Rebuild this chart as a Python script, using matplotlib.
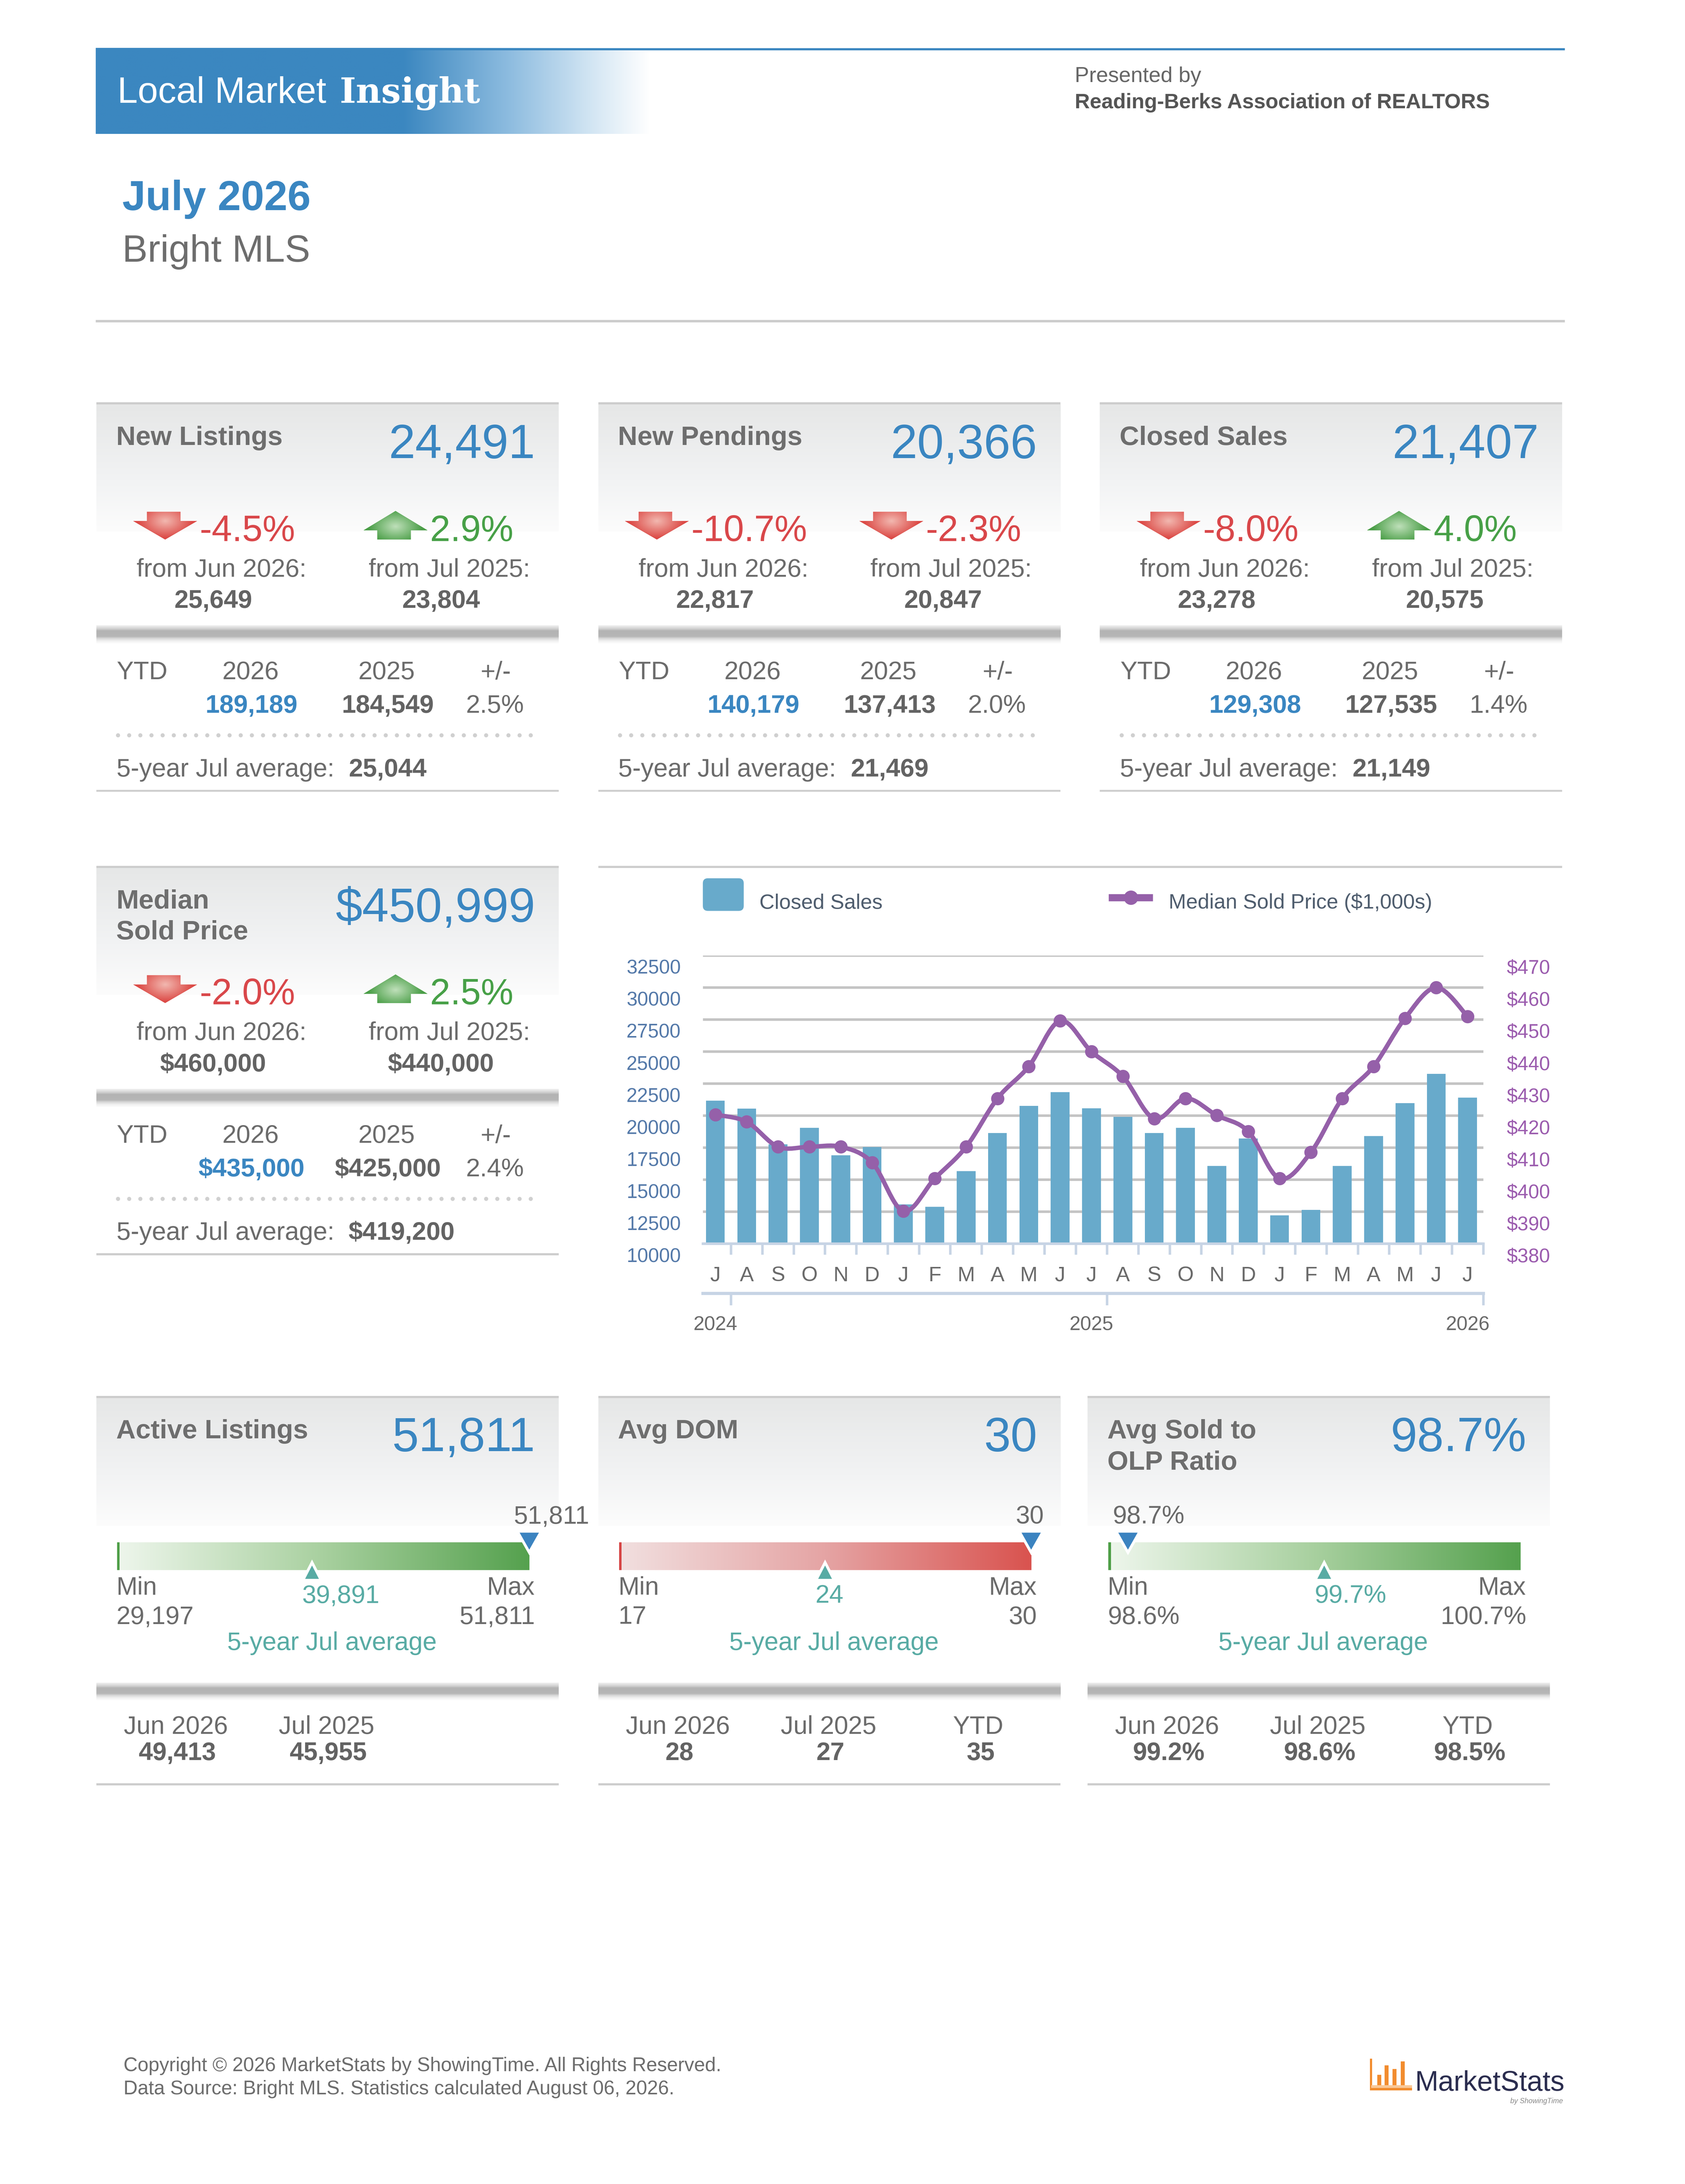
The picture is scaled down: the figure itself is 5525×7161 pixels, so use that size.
import numpy as np
import matplotlib
matplotlib.use("Agg")
import matplotlib.pyplot as plt
from matplotlib.patches import Polygon, Rectangle, FancyBboxPatch, PathPatch
from matplotlib.path import Path
from matplotlib.colors import LinearSegmentedColormap, to_rgb
from matplotlib.transforms import ScaledTranslation

SANS = ['Liberation Sans', 'DejaVu Sans']
plt.rcParams['font.family'] = SANS

# ---- chart data, Jul 2024 .. Jul 2026
months = ['J', 'A', 'S', 'O', 'N', 'D', 'J', 'F', 'M', 'A', 'M', 'J',
          'J', 'A', 'S', 'O', 'N', 'D', 'J', 'F', 'M', 'A', 'M', 'J', 'J']
year_labels = ['2024', '2025', '2026']
closed_sales = [21180, 20560, 17780, 19060, 16910, 17560, 13070, 12880, 15670, 18640, 20760, 21830,
                20575, 19910, 18640, 19060, 16070, 18210, 12230, 12650, 16070, 18410, 20980, 23278, 21407]
median_price = [420.3, 418.1, 410.3, 410.3, 410.3, 405.4, 390.2, 400.4, 410.3, 425.4, 435.4, 449.6,
                440.0, 432.3, 419.1, 425.4, 420.1, 415.1, 400.4, 408.6, 425.4, 435.4, 450.4, 460.0, 451.0]
left_ticks = list(range(10000, 32501, 2500))
right_ticks = list(range(380, 471, 10))

# ---- stat panels
stat_titles = ['New Listings', 'New Pendings', 'Closed Sales', 'Median\nSold Price']
stat_now = ['24,491', '20,366', '21,407', '$450,999']
mom_pct = [-4.5, -10.7, -8.0, -2.0]
yoy_pct = [2.9, -2.3, 4.0, 2.5]
prev_month = ['25,649', '22,817', '23,278', '$460,000']
prev_year = ['23,804', '20,847', '20,575', '$440,000']
ytd_2026 = ['189,189', '140,179', '129,308', '$435,000']
ytd_2025 = ['184,549', '137,413', '127,535', '$425,000']
ytd_chg = ['2.5%', '2.0%', '1.4%', '2.4%']
avg_5yr = ['25,044', '21,469', '21,149', '$419,200']

# ---- gauge panels
gauge_titles = ['Active Listings', 'Avg DOM', 'Avg Sold to\nOLP Ratio']
gauge_now = [51811, 30, 98.7]
gauge_now_lbl = ['51,811', '30', '98.7%']
gauge_min = [29197, 17, 98.6]
gauge_min_lbl = ['29,197', '17', '98.6%']
gauge_avg = [39891, 23.5, 99.7]
gauge_avg_lbl = ['39,891', '24', '99.7%']
gauge_max = [51811, 30, 100.7]
gauge_max_lbl = ['51,811', '30', '100.7%']
gauge_sub_lbl = [['Jun 2026', 'Jul 2025'], ['Jun 2026', 'Jul 2025', 'YTD'], ['Jun 2026', 'Jul 2025', 'YTD']]
gauge_sub_val = [['49,413', '45,955'], ['28', '27', '35'], ['99.2%', '98.6%', '98.5%']]

BLUE = '#3a86c1'
GRAY = '#6b6b6b'
DARK = '#636363'
TITLE_C = '#6e6e6e'
RED = '#d9474a'
GREEN = '#47a047'
TEAL = '#58aba4'
LINE = '#cdcdcd'
BAR_C = '#68aacb'
PURPLE = '#9560a9'
LEFT_C = '#5479a9'
RIGHT_C = '#9b5cae'
AX_C = '#c7d4e5'
MONTH_C = '#6a6a6a'
LEG_C = '#4f5d6e'
MARK_BLUE = '#3b83c0'
BIG = 17.4
PANEL_STOPS = [(0, '#e6e7e7'), (0.6, '#f2f3f4'), (1, '#fcfcfc')]
BAND_STOPS = [(0, '#f2f2f2'), (0.18, '#d2d2d2'), (0.3, '#b3b3b3'), (0.6, '#b6b6b6'),
              (0.72, '#dadada'), (0.85, '#f1f1f1'), (1, '#ffffff')]
GREEN_BAR = [(0, '#eef6ec'), (0.5, '#a8d09f'), (1, '#55a14e')]
RED_BAR = [(0, '#f1dfdf'), (0.5, '#e5a4a4'), (1, '#d9534f')]
gauge_stops = [GREEN_BAR, RED_BAR, GREEN_BAR]
gauge_edge = ['#4e9e47', '#d64545', '#4e9e47']

# page laid out in units of the 5891 x 7635 reference; rendered a bit smaller
W, H = 5891, 7635
DPI = 650
fig = plt.figure(figsize=(W / 693, H / 693), dpi=DPI)
pg = fig.add_axes([0, 0, 1, 1])
pg.set_xlim(0, W)
pg.set_ylim(H, 0)
pg.axis('off')
rend = fig.canvas.get_renderer()
PX = W / (fig.get_figwidth() * DPI)   # page units per output pixel


def cmap_of(stops):
    return LinearSegmentedColormap.from_list('g', stops)


def vgrad(x0, x1, y0, y1, stops, z=0):
    c = cmap_of(stops)(np.linspace(0, 1, 256))[:, None, :]
    pg.imshow(c, extent=(x0, x1, y1, y0), aspect='auto', interpolation='bilinear', zorder=z)


def hgrad(x0, x1, y0, y1, stops, z=1):
    c = cmap_of(stops)(np.linspace(0, 1, 256))[None, :, :]
    pg.imshow(c, extent=(x0, x1, y1, y0), aspect='auto', interpolation='bilinear', zorder=z)


def hline(x0, x1, y, th, color, z=2):
    pg.add_patch(Rectangle((x0, y - th / 2), x1 - x0, th, facecolor=color, edgecolor='none', zorder=z))


def tx(x, y, s, size, color=GRAY, weight='normal', ha='left', family=None, style='normal', z=5):
    return pg.text(x, y, s, fontsize=size, color=color, fontweight=weight, ha=ha, va='baseline',
                   family=family or SANS, fontstyle=style, zorder=z)


def width_of(t):
    return t.get_window_extent(rend).width * PX


def fit(t, width):
    t.set_fontsize(t.get_fontsize() * width / width_of(t))


def arrow(x0, top, up, base, light):
    w = 223.3
    if up:
        head = 67.5
        bot = top + 99.8
        pts = [(x0 + w / 2, top), (x0 + w, top + head), (x0 + 165.2, top + head), (x0 + 165.2, bot),
               (x0 + 48, bot), (x0 + 48, top + head), (x0, top + head)]
        cy = top + head * 0.8
    else:
        shaft = 32.4
        bot = top + 97.1
        pts = [(x0 + 48, top), (x0 + 165.2, top), (x0 + 165.2, top + shaft), (x0 + w, top + shaft),
               (x0 + w / 2, bot), (x0, top + shaft), (x0 + 48, top + shaft)]
        cy = top + shaft
    poly = Polygon(pts, closed=True, facecolor=base, edgecolor='none', zorder=3)
    pg.add_patch(poly)
    gx, gy = np.meshgrid(np.linspace(x0, x0 + w, 80), np.linspace(top, bot, 80))
    d = np.sqrt(((gx - (x0 + w / 2)) / 95) ** 2 + ((gy - cy) / 60) ** 2)
    t = np.clip(d, 0, 1)[..., None]
    img = np.array(to_rgb(light)) * (1 - t) + np.array(to_rgb(base)) * t
    im = pg.imshow(img, extent=(x0, x0 + w, bot, top), aspect='auto', interpolation='bilinear', zorder=4)
    im.set_clip_path(poly)


def pct_group(cx, T, val):
    up = val > 0
    color = GREEN if up else RED
    t = tx(0, T + 480.9, f'{val:.1f}%', 13.3, color)
    w = width_of(t)
    x0 = cx - (232.3 + w) / 2
    if up:
        arrow(x0, T + 376.4, True, '#4a9e47', '#bfe0ba')
    else:
        arrow(x0, T + 379.1, False, '#dc4a46', '#f2b8b0')
    t.set_x(x0 + 232.3)


def band(x0, x1, y0, y1):
    vgrad(x0, x1, y0, y1, BAND_STOPS, z=1)


def dots(x0, x1, y):
    pg.plot([x0, x1], [y, y], color='#d0d0d0', lw=1.5, linestyle=(0, (0.001, 2.7)),
            dash_capstyle='round', zorder=2)


def stat_panel(L, T, k):
    hline(L, L + 1616, T, 7.4, LINE)
    vgrad(L, L + 1616, T + 3.7, T + 448, PANEL_STOPS)
    for i, line in enumerate(stat_titles[k].split('\n')):
        tx(L + 69, T + 145.2 + i * 108, line, 9.8, TITLE_C, 'bold')
    tx(L + 1534, T + 191, stat_now[k], BIG, BLUE, ha='right')
    pct_group(L + 412, T, mom_pct[k])
    pct_group(L + 1196, T, yoy_pct[k])
    tx(L + 437.5, T + 605.7, 'from Jun 2026:', 9.25, ha='center')
    tx(L + 1233.8, T + 605.7, 'from Jul 2025:', 9.25, ha='center')
    tx(L + 408, T + 714.8, prev_month[k], 9.25, DARK, 'bold', ha='center')
    tx(L + 1205, T + 714.8, prev_year[k], 9.25, DARK, 'bold', ha='center')
    band(L, L + 1616, T + 777, T + 841)
    tx(L + 71, T + 964.5, 'YTD', 9.25)
    tx(L + 539, T + 964.5, '2026', 9.25, ha='center')
    tx(L + 1014.5, T + 964.5, '2025', 9.25, ha='center')
    tx(L + 1396.6, T + 964.5, '+/-', 9.25, ha='center')
    tx(L + 543, T + 1081.9, ytd_2026[k], 9.25, BLUE, 'bold', ha='center')
    tx(L + 1019, T + 1081.9, ytd_2025[k], 9.25, DARK, 'bold', ha='center')
    tx(L + 1394, T + 1081.9, ytd_chg[k], 9.25, ha='center')
    dots(L + 76, L + 1527, T + 1160.5)
    tx(L + 70, T + 1303.8, '5-year Jul average:', 9.25)
    tx(L + 882, T + 1303.8, avg_5yr[k], 9.25, DARK, 'bold')
    hline(L, L + 1616, T + 1354.7, 7.4, LINE)


def gauge_panel(L, T, k):
    hline(L, L + 1616, T, 7.4, LINE)
    vgrad(L, L + 1616, T + 3.7, T + 451, PANEL_STOPS)
    for i, line in enumerate(gauge_titles[k].split('\n')):
        tx(L + 69, T + 144.2 + i * 110, line, 9.8, TITLE_C, 'bold')
    tx(L + 1534, T + 189, gauge_now_lbl[k], BIG, BLUE, ha='right')
    bx0, bx1 = L + 72.5, L + 1513.4
    by0, by1 = T + 508.6, T + 605.6
    hgrad(bx0, bx1, by0, by1, gauge_stops[k])
    pg.add_patch(Rectangle((bx0, by0), 9, by1 - by0, facecolor=gauge_edge[k], edgecolor='none', zorder=2))
    span = gauge_max[k] - gauge_min[k]
    xm = bx0 + (gauge_now[k] - gauge_min[k]) / span * (bx1 - bx0)
    xa = bx0 + (gauge_avg[k] - gauge_min[k]) / span * (bx1 - bx0)
    pg.add_patch(Polygon([(xm - 42, T + 469.7), (xm + 42, T + 469.7), (xm, T + 543.7)], closed=True,
                         facecolor=MARK_BLUE, edgecolor='white', lw=1.0, zorder=6))
    tx(xm - 54, T + 442, gauge_now_lbl[k], 9.2)
    pg.add_patch(Polygon([(xa, T + 578.8), (xa + 32, T + 640.8), (xa - 32, T + 640.8)], closed=True,
                         facecolor=TEAL, edgecolor='white', lw=1.0, zorder=6))
    tx(xa - 34, T + 719.4, gauge_avg_lbl[k], 9.2, TEAL)
    tx(L + 70, T + 691.6, 'Min', 9.2)
    tx(L + 70, T + 793.4, gauge_min_lbl[k], 9.2)
    tx(L + 1532, T + 691.6, 'Max', 9.2, ha='right')
    tx(L + 1534, T + 793.4, gauge_max_lbl[k], 9.2, ha='right')
    tx(L + 824, T + 884, '5-year Jul average', 9.2, TEAL, ha='center')
    band(L, L + 1616, T + 1000, T + 1062)
    centers = [278, 805, 1328]
    vcenters = [283, 811, 1336]
    for j, (lab, val) in enumerate(zip(gauge_sub_lbl[k], gauge_sub_val[k])):
        tx(L + centers[j], T + 1177.1, lab, 9.2, ha='center')
        tx(L + vcenters[j], T + 1269.6, val, 9.2, DARK, 'bold', ha='center')
    hline(L, L + 1616, T + 1354.7, 7.4, LINE)


# ---- header
hgrad(334.4, 2273, 168.4, 468.4, [(0, '#3b87c0'), (0.554, '#3b87c0'), (0.75, '#8fbde0'),
                                   (0.9, '#d5e7f4'), (1, '#ffffff')], z=1)
hline(334.4, 5470, 172.2, 7.6, '#3b87c0')
tx(410, 359.7, 'Local Market', 13.25, 'white')
t = tx(1187, 359.7, 'Insight', 13, 'white', 'bold', family=['DejaVu Serif'])
fit(t, 492)
tx(3757, 287, 'Presented by', 7.8, '#666666')
tx(3757, 378.8, 'Reading-Berks Association of REALTORS', 7.6, '#555555', 'bold')
tx(428, 734.7, 'July 2026', 15.2, BLUE, 'bold')
tx(428, 914.5, 'Bright MLS', 13.8, '#6d6d6d')
hline(334.4, 5470, 1123, 8.3, '#cccccc')

# ---- panels
for k, L in enumerate([336.9, 2091.4, 3845]):
    stat_panel(L, 1410.1, k)
stat_panel(336.9, 3030.4, 3)
for k, L in enumerate([336.9, 2091.4, 3802]):
    gauge_panel(L, 4883.6, k)

# ---- combo chart
hline(2091.4, 5461, 3030.4, 7.4, LINE)
pg.add_patch(FancyBboxPatch((2475, 3088.5), 107, 78, boxstyle='round,pad=18',
                            facecolor=BAR_C, edgecolor='none', zorder=3))
tx(2655, 3176.6, 'Closed Sales', 7.6, LEG_C)
pg.plot([3876, 4030], [3137.5, 3137.5], color=PURPLE, lw=2.6, solid_capstyle='butt', zorder=3)
pg.plot([3953], [3137.5], 'o', ms=4.2, color=PURPLE, zorder=4)
tx(4085, 3176.6, 'Median Sold Price ($1,000s)', 7.6, LEG_C)

ax = fig.add_axes([2457 / W, 1 - 4348.5 / H, (5185.4 - 2457) / W, (4348.5 - 3340.6) / H])
idx = np.arange(len(months))
ax.bar(idx, closed_sales, width=0.6, color=BAR_C, zorder=2)
ax.set_xlim(-0.4, 24.5)
ax.set_ylim(10000, 32500)
ax.set_yticks(left_ticks, [str(v) for v in left_ticks])
ax.grid(axis='y', color='#c4c4c4', lw=0.93)
ax.set_axisbelow(True)
ax.patch.set_alpha(0)
for s in ['left', 'right', 'top']:
    ax.spines[s].set_visible(False)
ax.spines['bottom'].set_color(AX_C)
ax.spines['bottom'].set_linewidth(0.94)
ax.set_xticks(idx + 0.5, [''] * len(idx))
ax.set_xticks(idx, months, minor=True)
ax.tick_params(axis='x', which='major', length=4, width=0.9, color=AX_C, direction='out')
ax.tick_params(axis='x', which='minor', length=0, pad=8, labelsize=7.6, labelcolor=MONTH_C)
ax.tick_params(axis='y', length=0, pad=8, labelsize=7.1, labelcolor=LEFT_C)

ax2 = ax.twinx()
ax2.set_ylim(380, 470)
ax2.set_yticks(right_ticks, [f'${v}' for v in right_ticks])
ax2.tick_params(axis='y', length=0, pad=8.5, labelsize=7.1, labelcolor=RIGHT_C)
for s in ax2.spines.values():
    s.set_visible(False)

off = ScaledTranslation(0, -6.6 / 72, fig.dpi_scale_trans)
for lab in ax.get_yticklabels() + ax2.get_yticklabels():
    lab.set_va('baseline')
    lab.set_transform(lab.get_transform() + off)

# smooth price line through the monthly points
pts = np.column_stack([idx, median_price]).astype(float)
verts = [tuple(pts[0])]
codes = [Path.MOVETO]
n = len(pts)
for i in range(n - 1):
    p0 = pts[max(i - 1, 0)]
    p1 = pts[i]
    p2 = pts[i + 1]
    p3 = pts[min(i + 2, n - 1)]
    verts += [tuple(p1 + (p2 - p0) / 6), tuple(p2 - (p3 - p1) / 6), tuple(p2)]
    codes += [Path.CURVE4] * 3
ax2.add_patch(PathPatch(Path(verts, codes), facecolor='none', edgecolor=PURPLE, lw=1.6,
                        capstyle='round', joinstyle='round', zorder=3))
ax2.plot(idx, median_price, 'o', ms=3.8, color=PURPLE, zorder=4, clip_on=False)

sec = ax.secondary_xaxis(-0.1716)
sec.set_xticks([0.5, 12.5, 24.5], ['', '', ''])
sec.set_xticks([0, 12, 24], year_labels, minor=True)
sec.tick_params(which='major', length=4.3, width=0.9, color=AX_C, direction='out')
sec.tick_params(which='minor', length=0, pad=8.1, labelsize=7.2, labelcolor=MONTH_C)
sec.spines['bottom'].set_color(AX_C)
sec.spines['bottom'].set_linewidth(1.15)

# ---- footer
tx(432, 7240, 'Copyright \u00a9 2026 MarketStats by ShowingTime. All Rights Reserved.', 7.1, '#6d6d6d')
tx(432, 7321.7, 'Data Source: Bright MLS. Statistics calculated August 06, 2026.', 7.1, '#6d6d6d')
ORANGE = '#f28c2e'
pg.add_patch(Rectangle((4789, 7196.7), 8, 111.3, facecolor=ORANGE, edgecolor='none', zorder=3))
for bx, btop in zip([4822, 4847, 4875, 4903.6], [7253, 7220, 7233, 7206.7]):
    pg.add_patch(Rectangle((bx - 7, btop), 14, 7290 - btop, facecolor=ORANGE, edgecolor='none', zorder=3))
pg.add_patch(Rectangle((4793, 7290), 143, 9, facecolor='#f9c897', edgecolor='none', zorder=3))
pg.add_patch(Rectangle((4793, 7299), 143, 9, facecolor=ORANGE, edgecolor='none', zorder=3))
t = tx(4946.5, 7308.3, 'MarketStats', 12.6, '#2b2d4f')
fit(t, 524)
tx(5464, 7352, 'by ShowingTime', 2.6, '#8a8a8a', ha='right', style='italic')

pg.set_xlim(0, W)
pg.set_ylim(H, 0)
fig.savefig('out.png', dpi=DPI)
